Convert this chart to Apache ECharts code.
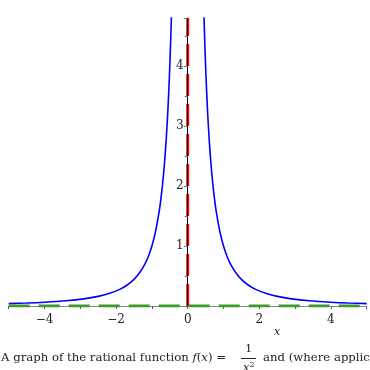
<!DOCTYPE html>
<html><head><meta charset="utf-8">
<script src="https://cdn.jsdelivr.net/npm/echarts@6/dist/echarts.min.js"></script>
<style>html,body{margin:0;padding:0;background:#fff}#c{width:370px;height:370px}</style>
</head><body><div id="c"></div>
<script>
// f(x) = 1/x^2, right branch sample points
const rightX = [0.455,0.47,0.49,0.51,0.53,0.56,0.6,0.65,0.7,0.75,0.8,0.9,1.0,1.1,1.2,1.35,1.5,1.7,1.9,2.2,2.5,2.9,3.4,4.0,4.5,5.0];
const rightY = [4.830,4.527,4.165,3.845,3.560,3.189,2.778,2.367,2.041,1.778,1.563,1.235,1.000,0.826,0.694,0.549,0.444,0.346,0.277,0.207,0.160,0.119,0.0865,0.0625,0.049,0.040];
// left branch sample points
const leftX = [-5.0,-4.5,-4.0,-3.4,-2.9,-2.5,-2.2,-1.9,-1.7,-1.5,-1.35,-1.2,-1.1,-1.0,-0.9,-0.8,-0.75,-0.7,-0.65,-0.6,-0.56,-0.53,-0.51,-0.49,-0.47,-0.455];
const leftY = [0.040,0.049,0.0625,0.0865,0.119,0.160,0.207,0.277,0.346,0.444,0.549,0.694,0.826,1.000,1.235,1.563,1.778,2.041,2.367,2.778,3.189,3.560,3.845,4.165,4.527,4.830];
// asymptotes
const vAsymX = [0, 0];
const vAsymY = [0, 4.8];
const hAsymX = [-5, 5];
const hAsymY = [0, 0];
const xTicks = [-4, -2, 0, 2, 4];
const yTicks = [1, 2, 3, 4];

const pair = (xs, ys) => xs.map((x, i) => [x, ys[i]]);
const serif = 'DejaVu Serif';
const fmtNum = v => (v < 0 ? '\u2212' + (-v) : String(v));

const gridLeft = 8.7, gridRight = 3.3;
const plotW = 370 - gridLeft - gridRight;
const yAxisOffset = -(plotW / 2); // place the y axis at x = 0

const chart = echarts.init(document.getElementById('c'), null, {renderer: 'canvas'});
chart.setOption({
  animation: false,
  backgroundColor: '#fff',
  grid: {left: gridLeft, right: gridRight, top: 18, bottom: 64},
  xAxis: {
    type: 'value', min: -5, max: 5, interval: 1,
    axisLine: {show: true, onZero: false, lineStyle: {color: '#888', width: 1}},
    axisTick: {show: true, length: 3, lineStyle: {color: '#555'}},
    splitLine: {show: false},
    axisLabel: {
      margin: 8, color: '#222', fontFamily: serif, fontSize: 12,
      formatter: v => (xTicks.includes(v) ? fmtNum(v) : '')
    }
  },
  yAxis: {
    type: 'value', min: 0, max: 4.8, interval: 1, z: 10,
    offset: yAxisOffset,
    axisLine: {show: true, onZero: false, lineStyle: {color: '#000', width: 1}},
    axisTick: {show: true, length: 4, lineStyle: {color: '#777'}},
    minorTick: {show: true, splitNumber: 2, length: 3, lineStyle: {color: '#777'}},
    splitLine: {show: false},
    axisLabel: {
      margin: 4, color: '#222', fontFamily: serif, fontSize: 12,
      showMaxLabel: false,
      formatter: v => (yTicks.includes(v) ? fmtNum(v) : '')
    }
  },
  series: [
    {type: 'line', data: pair(leftX, leftY), showSymbol: false, smooth: 0.3,
     lineStyle: {color: '#0000ff', width: 1.6}, clip: true},
    {type: 'line', data: pair(rightX, rightY), showSymbol: false, smooth: 0.3,
     lineStyle: {color: '#0000ff', width: 1.6}, clip: true},
    {type: 'line', data: pair(vAsymX, vAsymY), showSymbol: false,
     lineStyle: {color: '#ff0000', width: 3, type: [22, 8]}},
    {type: 'line', data: pair(hAsymX, hAsymY), showSymbol: false,
     lineStyle: {color: '#3f9a2c', width: 3, type: [21, 9]}}
  ],
  graphic: [
    {type: 'text', left: 274, top: 327, style: {text: 'x', font: 'italic 11px "DejaVu Serif"', fill: '#222'}},
    {type: 'text', left: 1, top: 352, style: {
      text: '{n|A graph of the rational function }{i|f}{n|(}{i|x}{n|) =}',
      rich: {n: {font: '11.7px "DejaVu Serif"', fill: '#222'}, i: {font: 'italic 11.7px "DejaVu Serif"', fill: '#222'}}
    }},
    {type: 'text', left: 245, top: 343, style: {text: '1', font: '11.5px "DejaVu Serif"', fill: '#222'}},
    {type: 'line', shape: {x1: 241, y1: 358.5, x2: 256, y2: 358.5}, style: {stroke: '#222', lineWidth: 1}},
    {type: 'text', left: 243, top: 361, style: {
      text: '{i|x}{s|2}',
      rich: {i: {font: 'italic 11.5px "DejaVu Serif"', fill: '#222'}, s: {font: '8px "DejaVu Serif"', fill: '#222', verticalAlign: 'top', padding: [0,0,6,0]}}
    }},
    {type: 'text', left: 263, top: 352, style: {text: 'and (where applicable) the asymptotes', font: '11.7px "DejaVu Serif"', fill: '#222'}}
  ]
});
</script></body></html>
